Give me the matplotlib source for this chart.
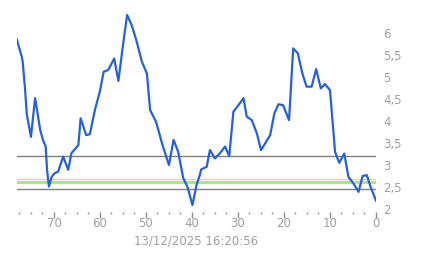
import matplotlib
matplotlib.use("Agg")
import matplotlib.pyplot as plt
from matplotlib.ticker import MultipleLocator, FuncFormatter
import matplotlib.transforms as mtransforms

x_vals = [78.1, 77.0, 76.8, 76.3, 75.9, 75.0, 74.1, 73.8, 73.0, 72.4, 71.8, 71.5, 71.1,
          70.5, 69.9, 69.1, 68.0, 66.9, 66.2, 64.7, 64.2, 63.0, 62.2, 61.1, 60.0,
          59.2, 58.2, 56.9, 56.0, 54.9, 54.1, 53.1, 52.0, 50.9, 49.8, 49.1, 47.8,
          46.4, 45.0, 44.0, 43.0, 41.9, 41.0, 39.9, 39.0, 38.3, 38.0, 36.8, 36.1,
          35.0, 33.9, 32.8, 31.9, 31.0, 29.9, 28.8, 28.1, 27.0, 25.9, 25.0, 24.1,
          23.0, 22.1, 21.2, 20.2, 18.9, 18.0, 17.0, 16.0, 15.1, 14.0, 13.0, 12.0,
          11.1, 10.0, 8.9, 8.0, 6.9, 6.0, 4.9, 3.8, 2.9, 2.0, 1.2, 0.0]
y_vals = [5.86, 5.46, 5.35, 4.74, 4.15, 3.64, 4.52, 4.33, 3.80, 3.57, 3.42, 2.89, 2.51,
          2.73, 2.81, 2.85, 3.19, 2.89, 3.27, 3.45, 4.06, 3.68, 3.70, 4.25, 4.68,
          5.12, 5.16, 5.42, 4.91, 5.80, 6.41, 6.18, 5.80, 5.35, 5.08, 4.25, 3.98,
          3.45, 3.00, 3.57, 3.30, 2.70, 2.51, 2.09, 2.55, 2.77, 2.90, 2.96, 3.34,
          3.15, 3.27, 3.42, 3.20, 4.21, 4.36, 4.52, 4.10, 4.02, 3.72, 3.34, 3.49,
          3.68, 4.17, 4.38, 4.36, 4.02, 5.65, 5.54, 5.08, 4.78, 4.78, 5.18, 4.74,
          4.84, 4.70, 3.30, 3.05, 3.26, 2.73, 2.58, 2.39, 2.75, 2.77, 2.51, 2.19]

gray_levels = [3.21, 2.46]
yellow_level = 2.675
green_level = 2.62

y_ticks = [2, 2.5, 3, 3.5, 4, 4.5, 5, 5.5, 6]
x_major = [70, 60, 50, 40, 30, 20, 10, 0]
x_label = "13/12/2025 16:20:56"

W, H = 443, 258
fig = plt.figure(figsize=(W / 100, H / 100), dpi=100)
ax = fig.add_axes([16.7 / W, 1 - 209 / H, (376 - 16.7) / W, (209 - 11) / H])

for g in gray_levels:
    ax.axhline(g, color="#808080", lw=1.0, zorder=1)
ax.axhline(green_level, color="#b5e08c", lw=2.2, zorder=1)
ax.axhline(yellow_level, color="#e6d98c", lw=1.0, zorder=1)

ax.plot(x_vals, y_vals, color="#2561d9", lw=1.6, zorder=3, solid_joinstyle="round")

ax.set_xlim(78.1, 0)
ax.set_ylim(2, 6.5)

for s in ax.spines.values():
    s.set_visible(False)

ax.yaxis.tick_right()
ax.set_yticks(y_ticks)
ax.yaxis.set_major_formatter(FuncFormatter(lambda v, p: ("%g" % v).replace(".", ",")))
ax.tick_params(axis="y", length=0, pad=5, labelsize=8.5, labelcolor="#a0a0a0")

ax.set_xticks(x_major)
ax.xaxis.set_minor_locator(MultipleLocator(2.5))
ax.tick_params(axis="x", which="major", length=4, width=1, color="#909090",
               pad=2, labelsize=8.5, labelcolor="#a0a0a0", direction="out")
ax.tick_params(axis="x", which="minor", length=1.5, width=1, color="#909090",
               direction="out")
ax.set_xlabel(x_label, color="#a0a0a0", fontsize=8.5, labelpad=3)

offset = mtransforms.ScaledTranslation(0, -3 / 100, fig.dpi_scale_trans)
for line in ax.xaxis.get_ticklines(minor=False) + ax.xaxis.get_ticklines(minor=True):
    line.set_transform(line.get_transform() + offset)

fig.savefig("out.png", dpi=100)
